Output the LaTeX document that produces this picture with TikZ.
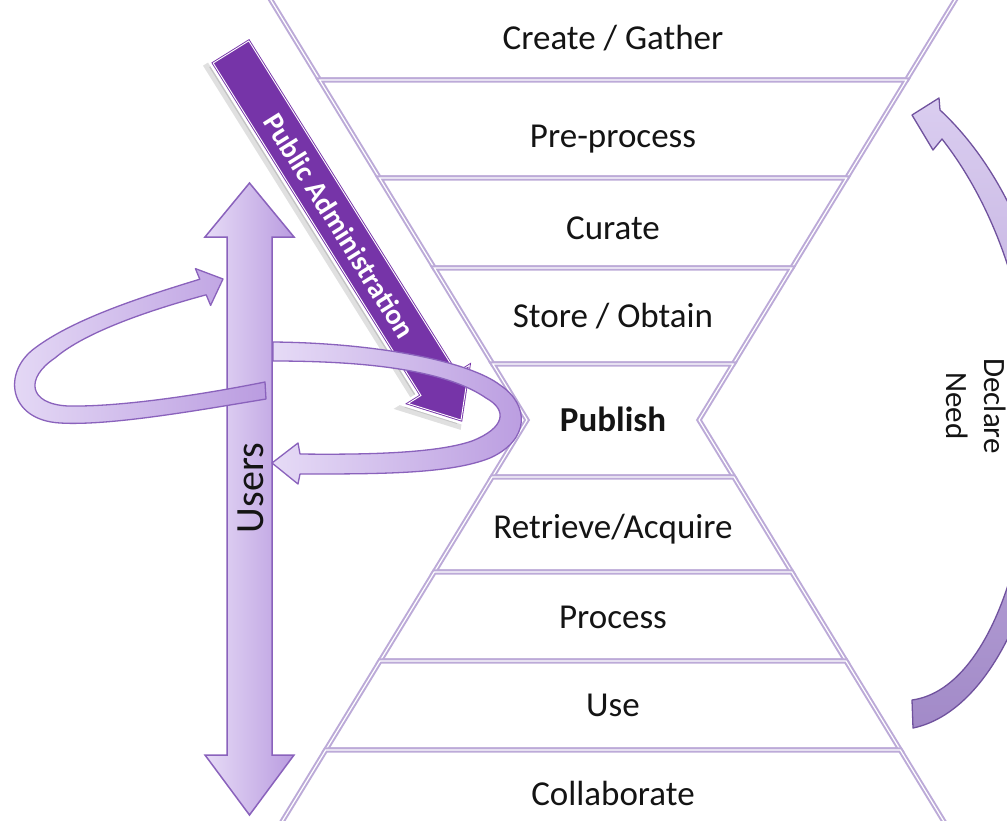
\documentclass[tikz,border=0pt]{standalone}
\usepackage{fontspec}
\setmainfont{Carlito}
\definecolor{lav}{RGB}{188,170,216}
\definecolor{ribL}{RGB}{230,219,246}
\definecolor{ribR}{RGB}{186,156,224}
\definecolor{ribO}{RGB}{138,98,188}
\definecolor{pacol}{RGB}{118,52,168}
\definecolor{decT}{RGB}{218,205,240}
\definecolor{decB}{RGB}{162,138,200}
\definecolor{decO}{RGB}{112,82,158}
\definecolor{txt}{RGB}{20,20,20}
\tikzset{
  band/.style={fill=white, draw=lav, line width=2pt, double=white, double distance=1.2pt, line join=miter},
  lbl/.style={font=\fontsize{35}{42}\selectfont, anchor=base, text=txt, inner sep=0pt},
  ribbon/.style={left color=ribL, right color=ribR, draw=ribO, line width=1.3pt, line join=round},
  usersarrow/.style={left color=ribL, right color=ribR, draw=ribO, line width=1.5pt, line join=miter},
  declarrow/.style={top color=decT, bottom color=decB, draw=decO, line width=1.3pt, line join=round},
}
\begin{document}
\begin{tikzpicture}[x=1pt,y=-1pt]
\useasboundingbox (0,0) rectangle (1007,820);
\fill[white] (0,0) rectangle (1007,820);
% hourglass bands
\path[band] (264.7,-10) -- (961.3,-10) -- (906.4,80) -- (319.6,80) -- cycle;
\path[band] (319.6,80) -- (906.4,80) -- (846.6,178) -- (379.4,178) -- cycle;
\path[band] (379.4,178) -- (846.6,178) -- (791.7,268) -- (434.3,268) -- cycle;
\path[band] (434.3,268) -- (791.7,268) -- (733.2,364) -- (492.8,364) -- cycle;
\path[band] (492.8,364) -- (733.2,364) -- (699,420) -- (733.8,477) -- (492.2,477) -- (527,420) -- cycle;
\path[band] (492.2,477) -- (733.8,477) -- (791.7,572) -- (434.3,572) -- cycle;
\path[band] (434.3,572) -- (791.7,572) -- (846,661) -- (380,661) -- cycle;
\path[band] (380,661) -- (846,661) -- (900.3,750) -- (325.7,750) -- cycle;
\path[band] (325.7,750) -- (900.3,750) -- (949.1,830) -- (276.9,830) -- cycle;
% stage labels
\node[lbl] (create) at (613,49) {Create / Gather};
\node[lbl] (prep) at (613,147) {Pre-process};
\node[lbl] (curate) at (613,239) {Curate};
\node[lbl] (store) at (613,327) {Store / Obtain};
\node[lbl, font=\fontsize{35}{42}\selectfont\bfseries] (publish) at (613,431) {Publish};
\node[lbl] (retr) at (613,538) {Retrieve/Acquire};
\node[lbl] (proc) at (613,628) {Process};
\node[lbl] (use) at (613,716) {Use};
\node[lbl] (collab) at (613,805) {Collaborate};
% Public Administration arrow
\path[draw=black, opacity=0.12, line width=9pt, line join=miter, fill=black]
  ([shift={(-4,4)}]248.8,40.9) -- ([shift={(-4,4)}]456.6,373.3) -- ([shift={(-4,4)}]469.3,365.3) -- ([shift={(-4,4)}]461,420) -- ([shift={(-4,4)}]408.3,403.5) -- ([shift={(-4,4)}]421,395.5) -- ([shift={(-4,4)}]213.2,63.1) -- cycle;
\path[draw=white, line width=8pt, line join=miter, fill=pacol]
  (248.8,40.9) -- (456.6,373.3) -- (469.3,365.3) -- (461,420) -- (408.3,403.5) -- (421,395.5) -- (213.2,63.1) -- cycle;
\path[fill=pacol, draw=pacol, line width=0.9pt, double=white, double distance=0.9pt, line join=miter]
  (248.8,40.9) -- (456.6,373.3) -- (469.3,365.3) -- (461,420) -- (408.3,403.5) -- (421,395.5) -- (213.2,63.1) -- cycle;
\node[rotate=-58, text=white, font=\fontsize{29}{34}\selectfont\bfseries, inner sep=0pt] (pa) at (339.7,225.8) {Public Administration};
% Users double arrow
\path[usersarrow]
  (249.5,183) -- (294,237) -- (272,237) -- (272,755) -- (294,755) -- (249.5,815) -- (205,755) -- (227,755) -- (227,237) -- (205,237) -- cycle;
\node[rotate=90, font=\fontsize{40}{48}\selectfont, text=txt, inner sep=0pt] (users) at (251,488) {Users};
% left loop arrow
\path[ribbon]
  (266,399) .. controls (200,410) and (110,426) .. (60,423)
  .. controls (8,420) and (2,372) .. (35,348)
  .. controls (75,318) and (145,296) .. (199.8,279.2)
  -- (195.4,268.6) -- (223,279) -- (210.6,305.4) -- (206.2,294.8)
  .. controls (150,310) and (85,332) .. (55,358)
  .. controls (25,378) and (28,404) .. (68,406)
  .. controls (120,407) and (200,395) .. (265,382) -- cycle;
% right loop arrow
\path[ribbon]
  (273,342) .. controls (380,343) and (470,362) .. (500,385)
  .. controls (530,405) and (530,440) .. (490,458)
  .. controls (450,474) and (380,474) .. (300,474)
  -- (298,484) -- (272,463) -- (298,443) -- (300,454)
  .. controls (380,455) and (440,452) .. (472,441)
  .. controls (505,428) and (508,410) .. (486,398)
  .. controls (450,373) and (380,361) .. (273,361) -- cycle;
% Declare Need arrow
\path[declarrow]
  (913,728) .. controls (990,712) and (1050,590) .. (1055,420)
  .. controls (1058,290) and (1010,175) .. (940,110)
  -- (939,98) -- (912,115) -- (933,150) -- (942,139)
  .. controls (990,200) and (1032,300) .. (1032,420)
  .. controls (1032,560) and (985,690) .. (912,700) -- cycle;
\node[rotate=-90, align=center, font=\fontsize{31}{38}\selectfont, text=txt, inner sep=0pt] (declare) at (976,406) {Declare\\Need};
\end{tikzpicture}
\end{document}
